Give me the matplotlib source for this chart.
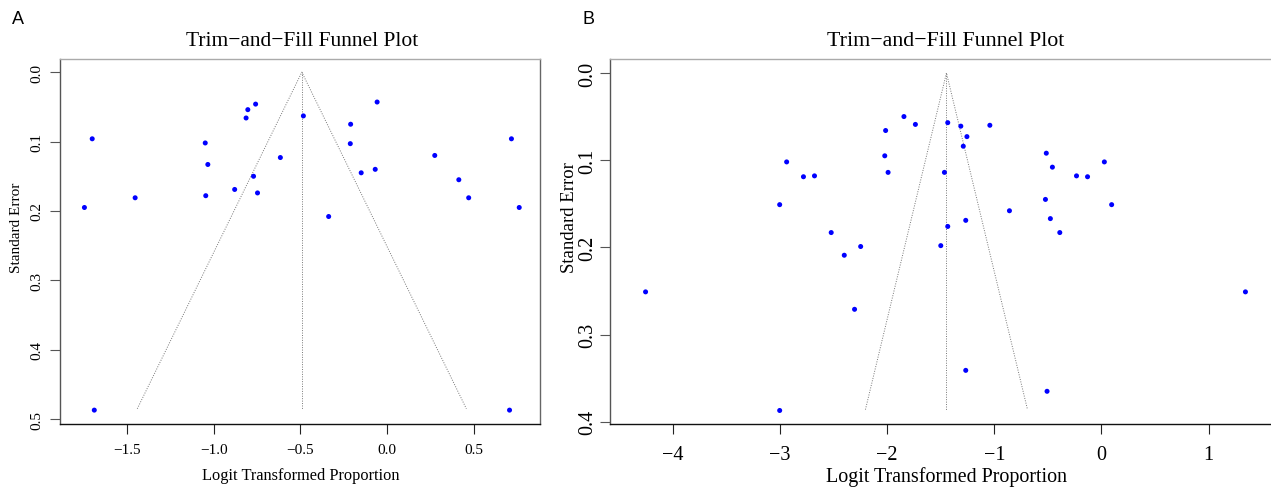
import numpy as np
import matplotlib
matplotlib.use("Agg")
import matplotlib.pyplot as plt

# ----------------
# data
# ----------------
# panel A: logit proportion vs standard error
a_logit = [-1.703, -1.691, -1.748, -1.455, -1.050, -1.035, -1.047, -0.880,
           -0.814, -0.804, -0.759, -0.771, -0.748, -0.616, -0.483, -0.337,
           -0.210, -0.212, -0.149, -0.068, -0.057, 0.276, 0.415, 0.472,
           0.719, 0.764, 0.708]
a_se = [0.096, 0.487, 0.195, 0.181, 0.102, 0.133, 0.178, 0.169,
        0.066, 0.054, 0.046, 0.150, 0.174, 0.123, 0.063, 0.208,
        0.075, 0.103, 0.145, 0.140, 0.043, 0.120, 0.155, 0.181,
        0.096, 0.195, 0.487]
a_est = -0.492
a_se_max = 0.485

# panel B
b_logit = [-4.256, 1.344, -2.939, -3.004, -3.004, -2.782, -2.679, -2.523,
           -2.401, -2.305, -2.248, -2.015, -2.023, -1.992, -1.844, -1.737,
           -1.500, -1.466, -1.435, -1.435, -1.313, -1.256, -1.290, -1.267,
           -1.267, -1.042, -0.859, -0.523, -0.515, -0.458, -0.477, -0.389,
           -0.508, -0.233, -0.130, 0.027, 0.095]
b_se = [0.251, 0.251, 0.102, 0.151, 0.387, 0.119, 0.118, 0.183,
        0.209, 0.271, 0.199, 0.066, 0.095, 0.114, 0.050, 0.059,
        0.198, 0.114, 0.057, 0.176, 0.061, 0.073, 0.084, 0.169,
        0.341, 0.060, 0.158, 0.145, 0.092, 0.108, 0.167, 0.183,
        0.365, 0.118, 0.119, 0.102, 0.151]
b_est = -1.447
b_se_max = 0.386

a_xticks = [-1.5, -1.0, -0.5, 0.0, 0.5]
a_yticks = [0.0, 0.1, 0.2, 0.3, 0.4, 0.5]
b_xticks = [-4, -3, -2, -1, 0, 1]
b_yticks = [0.0, 0.1, 0.2, 0.3, 0.4]

title = "Trim\u2212and\u2212Fill Funnel Plot"
xlab = "Logit Transformed Proportion"
ylab = "Standard Error"

# ----------------
# plot
# ----------------
W, H = 1271, 489
serif = ['Liberation Serif', 'DejaVu Serif']
fig = plt.figure(figsize=(W / 100, H / 100), dpi=100)


def px_axes(left, right, top, bottom):
    return fig.add_axes([left / W, 1 - bottom / H, (right - left) / W, (bottom - top) / H])


def funnel(ax, x, se, est, se_max, xlim, ylim, xticks, yticks, xfmt, tsize, xpad, ypad):
    ax.scatter(x, se, s=13, color='#0000ff', edgecolors='none', zorder=3)
    # pseudo confidence region
    ax.plot([est - 1.96 * se_max, est, est + 1.96 * se_max], [se_max, 0, se_max],
            ls=(0, (1, 1.5)), color='#777777', lw=0.7)
    ax.plot([est, est], [0, se_max], ls=(0, (1, 1.5)), color='#777777', lw=0.7)
    ax.set_xlim(*xlim)
    ax.set_ylim(ylim[1], ylim[0])
    ax.set_xticks(xticks)
    ax.set_xticklabels([xfmt.format(v).replace('-', '\u2212') for v in xticks],
                       fontfamily=serif, fontsize=tsize)
    ax.set_yticks(yticks)
    ax.set_yticklabels(['{:.1f}'.format(v) for v in yticks], fontfamily=serif,
                       fontsize=tsize, rotation=90, va='center')
    ax.tick_params(axis='x', length=7, width=0.8, pad=xpad, color='#222222')
    ax.tick_params(axis='y', length=7, width=0.8, pad=ypad, color='#555555')
    ax.spines['top'].set_color('#aaaaaa')
    ax.spines['left'].set_color('#555555')
    ax.spines['right'].set_color('#666666')
    ax.spines['bottom'].set_color('#111111')
    for sp in ax.spines.values():
        sp.set_linewidth(1.0)


# panel A
axA = px_axes(59.5, 540, 60, 425)
funnel(axA, a_logit, a_se, a_est, a_se_max, (-1.892, 0.884), (-0.019, 0.507),
       a_xticks, a_yticks, '{:.1f}', 11, 7, 4.5)
fig.text(302 / W, 1 - 41 / H, title, ha='center', va='center', fontfamily=serif, fontsize=15.5)
fig.text(301 / W, 1 - 476 / H, xlab, ha='center', va='center', fontfamily=serif, fontsize=11.8)
fig.text(17 / W, 1 - 228 / H, ylab, ha='center', va='center', rotation=90, fontfamily=serif, fontsize=11)

# panel B (right side cut off by figure edge)
axB = px_axes(610, 1281, 60, 425)
funnel(axB, b_logit, b_se, b_est, b_se_max, (-4.588, 1.676), (-0.016, 0.4025),
       b_xticks, b_yticks, '{:d}', 14.5, 8, 2.5)
axB.spines['right'].set_visible(False)
fig.text(946 / W, 1 - 41 / H, title, ha='center', va='center', fontfamily=serif, fontsize=15.8)
fig.text(946 / W, 1 - 477 / H, xlab, ha='center', va='center', fontfamily=serif, fontsize=14.4)
fig.text(570 / W, 1 - 218 / H, ylab, ha='center', va='center', rotation=90, fontfamily=serif, fontsize=13.5)

# panel letters
fig.text(12 / W, 1 - 20 / H, 'A', ha='left', va='center', fontfamily='Liberation Sans', fontsize=13)
fig.text(583 / W, 1 - 20 / H, 'B', ha='left', va='center', fontfamily='Liberation Sans', fontsize=13)

fig.savefig('out.png', dpi=100)
